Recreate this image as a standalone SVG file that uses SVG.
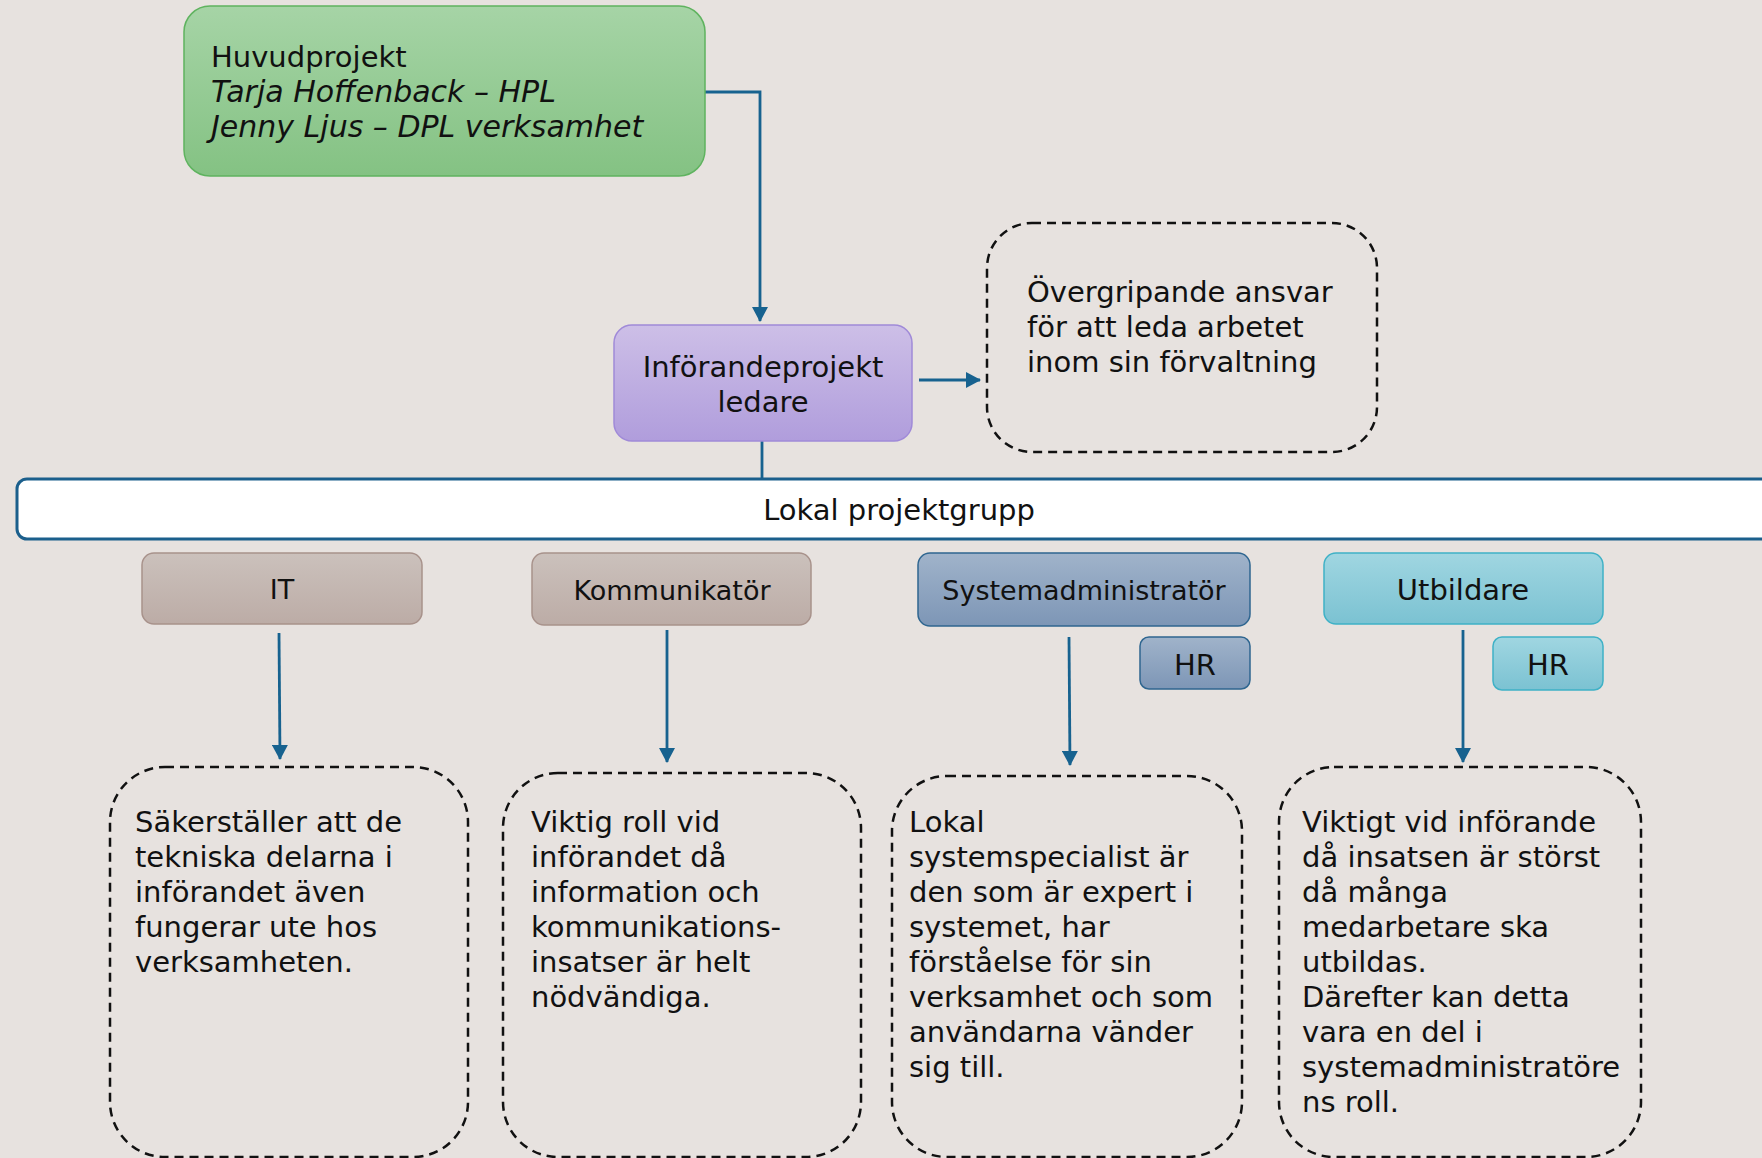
<svg xmlns="http://www.w3.org/2000/svg" width="1762" height="1158" viewBox="0 0 1762 1158">
<style>
text{font-family:"DejaVu Sans","Verdana",sans-serif;fill:#111;}
.t29{font-size:29px;}
.t27{font-size:27px;}
.c{text-anchor:middle;}
.conn{stroke:#17628f;stroke-width:2.8;fill:none;}
.dash{fill:none;stroke:#111;stroke-width:2.5;stroke-dasharray:9 6;}
</style>
<defs>
<linearGradient id="gGreen" x1="0" y1="0" x2="0" y2="1"><stop offset="0" stop-color="#a6d4a6"/><stop offset="1" stop-color="#84c283"/></linearGradient>
<linearGradient id="gPurple" x1="0" y1="0" x2="0" y2="1"><stop offset="0" stop-color="#cdbfe7"/><stop offset="1" stop-color="#b09ddc"/></linearGradient>
<linearGradient id="gTaupe" x1="0" y1="0" x2="0" y2="1"><stop offset="0" stop-color="#cbc1bc"/><stop offset="1" stop-color="#bcaca6"/></linearGradient>
<linearGradient id="gSteel" x1="0" y1="0" x2="0" y2="1"><stop offset="0" stop-color="#a0b3ca"/><stop offset="1" stop-color="#7d96b6"/></linearGradient>
<linearGradient id="gCyan" x1="0" y1="0" x2="0" y2="1"><stop offset="0" stop-color="#a0d6e1"/><stop offset="1" stop-color="#7bc2d2"/></linearGradient>
<marker id="arr" markerUnits="userSpaceOnUse" markerWidth="16" markerHeight="16" refX="14" refY="8" orient="auto" viewBox="0 0 16 16">
<path d="M0,0 L15,8 L0,16 Z" fill="#17628f"/>
</marker>
</defs>
<rect width="1762" height="1158" fill="#e7e2df"/>

<g id="connectors">
<path class="conn" d="M705,92 H760 V321" marker-end="url(#arr)"/>
<path class="conn" d="M919,380 H980" marker-end="url(#arr)"/>
<path class="conn" d="M762,441 V478" stroke-width="1.5"/>
<path class="conn" d="M279,633 L280,759" marker-end="url(#arr)"/>
<path class="conn" d="M667,630 V762" marker-end="url(#arr)"/>
<path class="conn" d="M1069,637 L1070,765" marker-end="url(#arr)"/>
<path class="conn" d="M1463,630 V762" marker-end="url(#arr)"/>
</g>

<g id="huvudprojekt">
<rect x="184" y="6" width="521" height="170" rx="26" fill="url(#gGreen)" stroke="#5fb35f" stroke-width="1.5"/>
<text class="t29" x="211" y="67">Huvudprojekt</text>
<text x="211" y="102" font-size="30" font-style="italic">Tarja Hoffenback – HPL</text>
<text x="211" y="137" font-size="30" font-style="italic">Jenny Ljus – DPL verksamhet</text>
</g>

<g id="inforandeprojektledare">
<rect x="614" y="325" width="298" height="116" rx="18" fill="url(#gPurple)" stroke="#a08ad8" stroke-width="1.5"/>
<text class="t29 c" x="763" y="377">Införandeprojekt</text>
<text class="t29 c" x="763" y="412">ledare</text>
</g>

<g id="overgripande">
<rect class="dash" x="987" y="223" width="390" height="229" rx="45"/>
<text class="t29" x="1027" y="302">Övergripande ansvar</text>
<text class="t29" x="1027" y="337">för att leda arbetet</text>
<text class="t29" x="1027" y="372">inom sin förvaltning</text>
</g>

<g id="lokalprojektgrupp">
<rect x="17" y="479" width="1790" height="60" rx="10" fill="#ffffff" stroke="#1b5f8c" stroke-width="3"/>
<text class="t29 c" x="899" y="520">Lokal projektgrupp</text>
</g>

<g id="it">
<rect x="142" y="553" width="280" height="71" rx="12" fill="url(#gTaupe)" stroke="#a8928b" stroke-width="1.5"/>
<text class="t27 c" x="282" y="599">IT</text>
</g>

<g id="kommunikator">
<rect x="532" y="553" width="279" height="72" rx="12" fill="url(#gTaupe)" stroke="#a8928b" stroke-width="1.5"/>
<text class="t27 c" x="672" y="600">Kommunikatör</text>
</g>

<g id="systemadministrator">
<rect x="918" y="553" width="332" height="73" rx="12" fill="url(#gSteel)" stroke="#2f6690" stroke-width="1.5"/>
<text class="t27 c" x="1084" y="600">Systemadministratör</text>
</g>

<g id="hr-sys">
<rect x="1140" y="637" width="110" height="52" rx="9" fill="url(#gSteel)" stroke="#2f6690" stroke-width="1.5"/>
<text class="t29 c" x="1195" y="675">HR</text>
</g>

<g id="utbildare">
<rect x="1324" y="553" width="279" height="71" rx="12" fill="url(#gCyan)" stroke="#3fb1c6" stroke-width="1.5"/>
<text class="t29 c" x="1463" y="600">Utbildare</text>
</g>

<g id="hr-utb">
<rect x="1493" y="637" width="110" height="53" rx="9" fill="url(#gCyan)" stroke="#3fb1c6" stroke-width="1.5"/>
<text class="t29 c" x="1548" y="675">HR</text>
</g>

<g id="desc-it">
<rect class="dash" x="110" y="767" width="358" height="390" rx="55"/>
<text class="t29" x="135" y="832">Säkerställer att de</text>
<text class="t29" x="135" y="867">tekniska delarna i</text>
<text class="t29" x="135" y="902">införandet även</text>
<text class="t29" x="135" y="937">fungerar ute hos</text>
<text class="t29" x="135" y="972">verksamheten.</text>
</g>

<g id="desc-kommunikator">
<rect class="dash" x="503" y="773" width="358" height="384" rx="55"/>
<text class="t29" x="531" y="832">Viktig roll vid</text>
<text class="t29" x="531" y="867">införandet då</text>
<text class="t29" x="531" y="902">information och</text>
<text class="t29" x="531" y="937">kommunikations-</text>
<text class="t29" x="531" y="972">insatser är helt</text>
<text class="t29" x="531" y="1007">nödvändiga.</text>
</g>

<g id="desc-systemadministrator">
<rect class="dash" x="892" y="776" width="350" height="381" rx="55"/>
<text class="t29" x="909" y="832">Lokal</text>
<text class="t29" x="909" y="867">systemspecialist är</text>
<text class="t29" x="909" y="902">den som är expert i</text>
<text class="t29" x="909" y="937">systemet, har</text>
<text class="t29" x="909" y="972">förståelse för sin</text>
<text class="t29" x="909" y="1007">verksamhet och som</text>
<text class="t29" x="909" y="1042">användarna vänder</text>
<text class="t29" x="909" y="1077">sig till.</text>
</g>

<g id="desc-utbildare">
<rect class="dash" x="1279" y="767" width="362" height="390" rx="55"/>
<text class="t29" x="1302" y="832">Viktigt vid införande</text>
<text class="t29" x="1302" y="867">då insatsen är störst</text>
<text class="t29" x="1302" y="902">då många</text>
<text class="t29" x="1302" y="937">medarbetare ska</text>
<text class="t29" x="1302" y="972">utbildas.</text>
<text class="t29" x="1302" y="1007">Därefter kan detta</text>
<text class="t29" x="1302" y="1042">vara en del i</text>
<text class="t29" x="1302" y="1077">systemadministratöre</text>
<text class="t29" x="1302" y="1112">ns roll.</text>
</g>
</svg>
